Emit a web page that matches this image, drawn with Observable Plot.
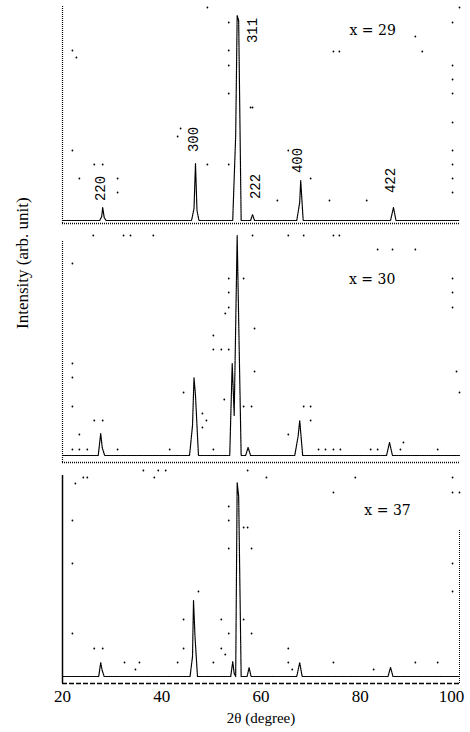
<!DOCTYPE html>
<html>
<head>
<meta charset="utf-8">
<script src="https://cdn.jsdelivr.net/npm/d3@7"></script>
<script src="https://cdn.jsdelivr.net/npm/@observablehq/plot@0.6"></script>
<style>
  html, body { margin: 0; padding: 0; background: #fff; }
  svg { display: block; }
</style>
</head>
<body>
<div id="chart"></div>
<script>
// ---- data ----
const panelLabels = ["x = 29", "x = 30", "x = 37"];
const panelBase = [463, 228, 7];        // vertical offset of each pattern (arb. units)
const panelAxis = [460, 221];           // dotted separator lines of upper panels
const panelTop = [678, 443, 208];       // top of left edge trace

const tt29 = [20, 27.5, 27.9, 28.1, 28.4, 28.8, 46.0, 46.5, 46.8, 47.1, 47.5, 54.3, 54.9, 55.2, 55.5, 56.0, 57.9, 58.3, 58.7, 67.2, 67.8, 68.0, 68.5, 86.1, 86.7, 87.2, 100];
const int29 = [0, 0, 4, 13, 3, 0, 0, 12, 57, 10, 0, 0, 85, 205, 200, 0, 0, 6, 0, 0, 18, 40, 0, 0, 13, 0, 0];

const tt30 = [20, 27.2, 27.7, 28.0, 28.5, 45.6, 46.2, 46.5, 46.8, 47.4, 53.7, 54.2, 54.6, 55.2, 55.6, 56.0, 56.9, 57.4, 57.9, 66.8, 67.5, 67.8, 68.4, 85.3, 85.9, 86.5, 100];
const int30 = [0, 0, 22, 8, 0, 0, 30, 78, 60, 0, 0, 92, 40, 220, 108, 0, 0, 8, 0, 0, 20, 35, 0, 0, 13, 0, 0];

const tt37 = [20, 27.3, 27.7, 28.0, 28.4, 45.7, 46.2, 46.4, 46.7, 47.2, 53.9, 54.3, 54.6, 54.9, 55.2, 55.5, 56.0, 57.2, 57.6, 58.0, 67.2, 67.8, 68.3, 85.6, 86.1, 86.6, 100];
const int37 = [0, 0, 14, 6, 0, 0, 20, 76, 40, 0, 0, 15, 3, 0, 194, 180, 0, 0, 9, 0, 0, 14, 0, 0, 9, 0, 0];

// hkl labels (top panel)
const hklText = ["220", "300", "311", "222", "400", "422"];
const hklX = [27.7, 46.4, 58.3, 58.9, 67.4, 86.1];
const hklY = [495, 544, 653, 497, 523, 503];

// panel labels position
const labelX = [82.5, 82.4, 85.5];
const labelY = [653, 404, 173];

// scattered detector dots
const dotX = [22.0,22.8,22.0,23.4,26.4,28.1,31.1,31.1,49.2,43.2,43.8,53.5,53.5,53.5,53.5,57.9,49.2,53.5,91.1,92.5,74.6,75.8,98.6,98.6,98.6,98.6,98.6,98.6,98.6,98.6,98.6,100,58.3,65.5,70.0,63.3,73.8,81.3,58.3,65.5,68.6,74.6,75.8,26.2,32.3,33.7,38.3,
  22.0,22.0,22.0,22.0,26.4,28.1,23.4,22.0,23.4,25.0,31.1,41.6,44.4,48.2,49.0,48.2,50.4,50.4,52.0,53.5,53.5,53.5,53.5,52.8,56.5,58.7,58.7,56.5,52.6,50.4,83.5,86.5,91.1,58.1,68.6,70.0,70.0,65.5,88.7,98.6,98.6,98.6,99.4,100,71.6,73.0,74.6,76.0,82.1,83.5,88.1,95.6,
  24.2,25.0,22.6,22.0,22.0,22.0,26.4,28.1,32.5,35.5,34.7,43.2,44.4,44.4,47.4,50.4,52.0,52.0,52.8,53.5,53.5,53.5,53.5,57.3,58.1,58.1,56.5,38.5,39.3,40.8,36.3,57.3,61.1,74.6,79.0,98.6,98.6,100,56.5,98.6,98.6,65.5,65.5,66.3,74.6,82.7,91.1,95.6];
const dotY = [633,626,533,505,519,519,505,491,676,547,555,661,633,618,590,576,519,519,647,632,632,632,661,618,604,590,561,533,519,505,491,676,576,533,505,483,483,483,448,448,448,448,448,448,448,448,448,
  420,320,306,277,263,263,249,234,234,234,234,234,291,270,263,256,348,334,334,334,405,391,376,370,405,355,312,277,284,234,434,434,434,277,277,277,263,249,241,405,391,376,312,291,234,234,234,234,234,234,234,234,
  206,206,200,163,120,50,35,35,21,21,14,21,64,35,92,21,64,35,29,177,163,135,50,156,135,50,64,206,213,213,213,213,206,191,206,206,191,191,156,120,92,35,21,14,21,14,21,21];

const xTicks = [20, 40, 60, 80];
const xTickLast = [100];
const xLabel = "2θ (degree)";
const yLabel = "Intensity (arb. unit)";

// ---- build tables ----
const series = [[tt29, int29], [tt30, int30], [tt37, int37]];
const rows = [];
series.forEach(([tt, ii], p) => tt.forEach((t, k) => rows.push({tt: t, y: panelBase[p] + ii[k], panel: panelLabels[p]})));
const edges = panelLabels.map((l, p) => ({panel: l, y1: p === 2 ? 0 : panelAxis[p], y2: panelTop[p]}));
const dots = dotX.map((x, k) => ({x, y: dotY[k]}));
const hkl = hklText.map((t, k) => ({t, x: hklX[k], y: hklY[k]}));
const labs = panelLabels.map((t, k) => ({t, x: labelX[k], y: labelY[k]}));

const tickStyle = {tickSize: 0, tickPadding: 6, fontSize: 17, fontFamily: "Liberation Serif", label: null, tickFormat: d => String(d)};

const chart = Plot.plot({
  width: 470,
  height: 732,
  marginLeft: 62,
  marginRight: 11,
  marginTop: 0,
  marginBottom: 49,
  style: {background: "#fff", color: "#000"},
  x: {domain: [20, 100]},
  y: {domain: [0, 683], axis: null},
  marks: [
    Plot.ruleX(edges.slice(0, 2), {x: () => 20, y1: "y1", y2: "y2", stroke: "#000", strokeWidth: 1.2, strokeDasharray: "1,1"}),
    Plot.ruleX(edges.slice(2), {x: () => 20, y1: "y1", y2: "y2", stroke: "#000", strokeWidth: 1.5}),
    Plot.ruleX([100], {y1: 0, y2: 153, stroke: "#000", strokeDasharray: "1,1"}),
    Plot.ruleY(panelAxis, {x1: 20, x2: 100, stroke: "#000", strokeDasharray: "1,1", strokeWidth: 1.3}),
    Plot.ruleY([0], {x1: 20, x2: 100, stroke: "#000", strokeDasharray: "5,2", strokeWidth: 1.5}),
    Plot.line(rows, {x: "tt", y: "y", z: "panel", stroke: "#000", strokeWidth: 1.2, strokeDasharray: "1.5,0.8"}),
    Plot.dot(dots, {x: "x", y: "y", r: 0.9, fill: "#000", stroke: null}),
    Plot.text(hkl, {x: "x", y: "y", text: "t", rotate: -90, fontSize: 14, fontFamily: "Liberation Mono", fill: "#000"}),
    Plot.text(labs, {x: "x", y: "y", text: "t", fontSize: 14, fontFamily: "DejaVu Serif", fill: "#000"}),
    Plot.axisX({ticks: xTicks, ...tickStyle}),
    Plot.axisX({ticks: xTickLast, ...tickStyle, dx: -8}),
    Plot.text([xLabel], {frameAnchor: "bottom", dy: 39, fontSize: 15, fontFamily: "Liberation Serif", fill: "#000"}),
    Plot.text([yLabel], {frameAnchor: "left", rotate: -90, dx: -40, dy: -13, fontSize: 17, fontFamily: "Liberation Serif", fill: "#000"})
  ]
});
document.getElementById("chart").appendChild(chart);
</script>
</body>
</html>
